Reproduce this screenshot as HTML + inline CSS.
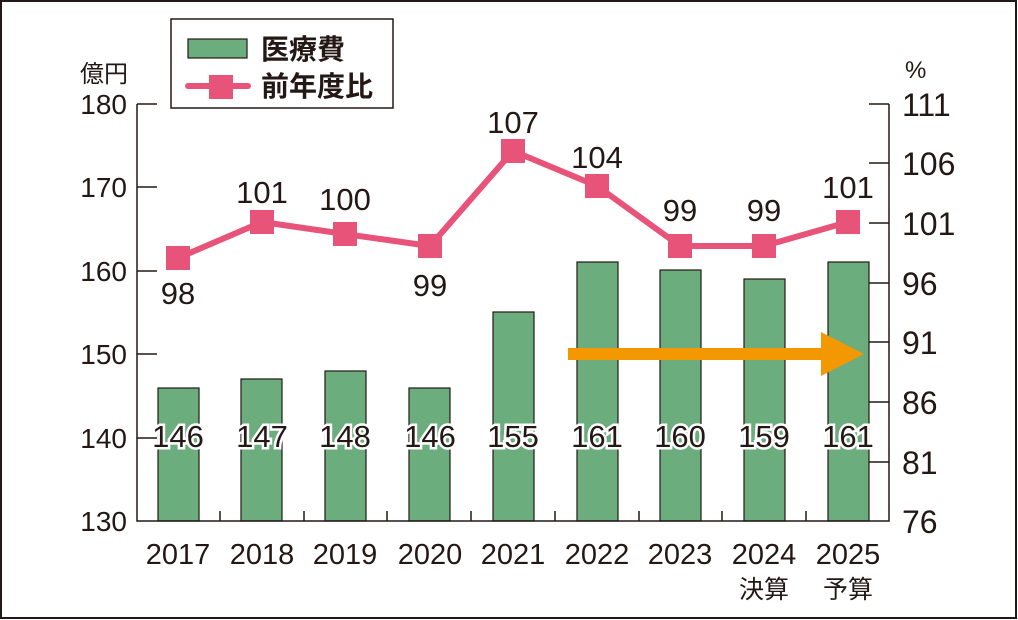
<!DOCTYPE html>
<html><head><meta charset="utf-8"><style>body{margin:0;background:#fff}svg{display:block}text{font-family:"Liberation Sans","Noto Sans CJK JP",sans-serif;fill:#231815}</style></head><body>
<svg width="1018" height="620" viewBox="0 0 1018 620">
<rect x="1" y="1" width="1015" height="617" fill="#fff" stroke="#231815" stroke-width="2"/>
<g fill="#6cad7e" stroke="#231815" stroke-width="1.2">
<rect x="158" y="388" width="41" height="133"/>
<rect x="241" y="379" width="41" height="142"/>
<rect x="325" y="371" width="41" height="150"/>
<rect x="409" y="388" width="41" height="133"/>
<rect x="493" y="312" width="41" height="209"/>
<rect x="577" y="262" width="41" height="259"/>
<rect x="660" y="270" width="41" height="251"/>
<rect x="744" y="279" width="41" height="242"/>
<rect x="828" y="262" width="41" height="259"/>
</g>
<g stroke="#231815" stroke-width="1.5" fill="none">
<path d="M137 104V521H889V104"/>
<path d="M137 104h20M137 187h20M137 271h20M137 354h20M137 438h20"/>
<path d="M889 104h-20M889 163h-20M889 223h-20M889 283h-20M889 342h-20M889 402h-20M889 462h-20"/>
<path d="M220 521v-10M304 521v-10M387 521v-10M471 521v-10M555 521v-10M639 521v-10M722 521v-10M806 521v-10"/>
</g>
<g font-size="28" text-anchor="end"><text x="127" y="114">180</text><text x="127" y="197">170</text><text x="127" y="281">160</text><text x="127" y="364">150</text><text x="127" y="448">140</text><text x="127" y="531">130</text></g>
<g font-size="32"><text x="902" y="116">111</text><text x="902" y="175">106</text><text x="902" y="235">101</text><text x="902" y="295">96</text><text x="902" y="354">91</text><text x="902" y="414">86</text><text x="902" y="474">81</text><text x="902" y="533">76</text></g>
<text x="80" y="82" font-size="24">億円</text>
<text x="905" y="78" font-size="24">%</text>
<g font-size="29" text-anchor="middle"><text x="178" y="564">2017</text><text x="262" y="564">2018</text><text x="345" y="564">2019</text><text x="430" y="564">2020</text><text x="513" y="564">2021</text><text x="597" y="564">2022</text><text x="680" y="564">2023</text><text x="764" y="564">2024</text><text x="848" y="564">2025</text>
<text x="764" y="598" font-size="25">決算</text><text x="848" y="598" font-size="25">予算</text></g>
<path d="M568 348H821V332L864 354L821 376V360H568Z" fill="#f39800"/>
<g font-size="31" text-anchor="middle" stroke="#fff" stroke-width="5" paint-order="stroke" style="fill:#231815"><text x="178" y="447">146</text><text x="262" y="447">147</text><text x="345" y="447">148</text><text x="430" y="447">146</text><text x="513" y="447">155</text><text x="597" y="447">161</text><text x="680" y="447">160</text><text x="764" y="447">159</text><text x="848" y="447">161</text></g>
<polyline points="178,258 262,222 345,234 430,246 513,151 597,186 680,246 764,246 848,222" fill="none" stroke="#e8537a" stroke-width="6"/>
<g fill="#e8537a"><rect x="166" y="246" width="24" height="24"/><rect x="250" y="210" width="24" height="24"/><rect x="333" y="222" width="24" height="24"/><rect x="418" y="234" width="24" height="24"/><rect x="501" y="139" width="24" height="24"/><rect x="585" y="174" width="24" height="24"/><rect x="668" y="234" width="24" height="24"/><rect x="752" y="234" width="24" height="24"/><rect x="836" y="210" width="24" height="24"/></g>
<g font-size="31" text-anchor="middle"><text x="178" y="304">98</text><text x="262" y="203">101</text><text x="345" y="210">100</text><text x="430" y="296">99</text><text x="513" y="133">107</text><text x="597" y="168">104</text><text x="680" y="221">99</text><text x="764" y="221">99</text><text x="848" y="198">101</text></g>
<rect x="171" y="19" width="222" height="89" fill="#fff" stroke="#231815" stroke-width="1.5"/>
<rect x="188" y="39" width="59" height="19" fill="#6cad7e" stroke="#231815" stroke-width="1.2"/>
<path d="M188 86H248" stroke="#e8537a" stroke-width="6" stroke-linecap="round"/>
<rect x="209" y="75" width="24" height="24" fill="#e8537a"/>
<text x="261" y="59" font-size="28" font-weight="bold">医療費</text>
<text x="261" y="96" font-size="28" font-weight="bold">前年度比</text>
</svg></body></html>
